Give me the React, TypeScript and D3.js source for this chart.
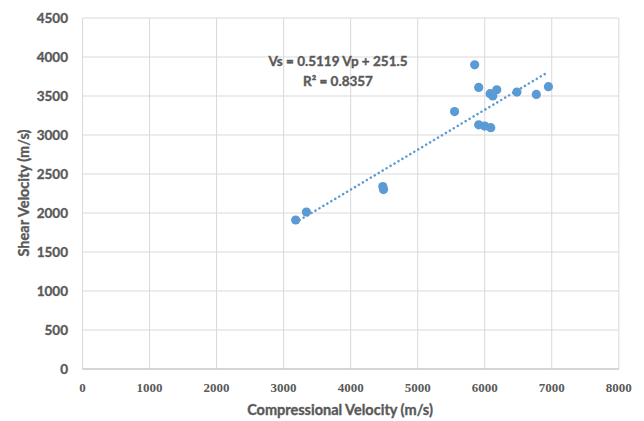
import React from "react";
import * as d3 from "d3";

const vp: number[] = [3180, 3340, 4480, 4490, 5550, 5850, 5910, 5910, 6000, 6090, 6080, 6120, 6180, 6480, 6770, 6950];
const vs: number[] = [1910, 2013, 2340, 2300, 3300, 3900, 3610, 3130, 3115, 3094, 3530, 3500, 3580, 3550, 3520, 3620];
const xTicks: number[] = [0, 1000, 2000, 3000, 4000, 5000, 6000, 7000, 8000];
const yTicks: number[] = [0, 500, 1000, 1500, 2000, 2500, 3000, 3500, 4000, 4500];
const slope = 0.5119;
const intercept = 251.5;
const eqText = "Vs = 0.5119 Vp + 251.5";
const r2Text = "R² = 0.8357";

export default function App() {
  const W = 644, H = 421;
  const x = d3.scaleLinear().domain([0, 8000]).range([82.5, 618.8]);
  const y = d3.scaleLinear().domain([0, 4500]).range([369, 18]);
  const xMin = d3.min(vp)!;
  const xMax = d3.max(vp)!;
  const line = d3.line<number>().x((d) => x(d)).y((d) => y(slope * d + intercept));
  const sans = "Lato, 'Open Sans', sans-serif";
  const grey = "#595959";
  const heavy = { stroke: grey, strokeWidth: 0.35 };
  return (
    <svg width={W} height={H} style={{ position: "absolute", left: 0, top: 0, background: "#fff" }}>
      {xTicks.map((t) => (
        <line key={"gx" + t} x1={x(t)} x2={x(t)} y1={y(4500)} y2={y(0)} stroke="#d9d9d9" strokeWidth={1} />
      ))}
      {yTicks.map((t) => (
        <line key={"gy" + t} x1={x(0)} x2={x(8000)} y1={y(t)} y2={y(t)} stroke="#d9d9d9" strokeWidth={1} />
      ))}
      <line x1={x(0)} x2={x(8000)} y1={y(0)} y2={y(0)} stroke="#bfbfbf" strokeWidth={1} />
      {yTicks.map((t) => (
        <text key={"ty" + t} x={68} y={y(t)} dy="0.35em" textAnchor="end" fontFamily={sans} fontWeight="bold" fontSize={13.5} fill={grey} {...heavy}>
          {t}
        </text>
      ))}
      {xTicks.map((t) => (
        <text key={"tx" + t} x={x(t)} y={392} textAnchor="middle" fontFamily="'Liberation Serif', 'Times New Roman', serif" fontWeight="bold" fontSize={13} fill={grey}>
          {t}
        </text>
      ))}
      <path d={line([xMin, xMax]) || ""} fill="none" stroke="#5b9bd5" strokeWidth={2.5} strokeDasharray="0.1 4.5" strokeLinecap="round" />
      {vp.map((v, i) => (
        <circle key={"p" + i} cx={x(v)} cy={y(vs[i])} r={4.6} fill="#5b9bd5" />
      ))}
      <text x={338} y={66} textAnchor="middle" fontFamily={sans} fontWeight="bold" fontSize={13.5} fill={grey} {...heavy}>
        {eqText}
      </text>
      <text x={338} y={86} textAnchor="middle" fontFamily={sans} fontWeight="bold" fontSize={13.5} fill={grey} {...heavy}>
        {r2Text}
      </text>
      <text x={340} y={415} textAnchor="middle" fontFamily={sans} fontWeight="bold" fontSize={14.5} fill={grey} {...heavy}>
        Compressional Velocity (m/s)
      </text>
      <text transform={`translate(29,${193}) rotate(-90)`} textAnchor="middle" fontFamily={sans} fontWeight="bold" fontSize={14.5} fill={grey} {...heavy}>
        Shear Velocity (m/s)
      </text>
    </svg>
  );
}
